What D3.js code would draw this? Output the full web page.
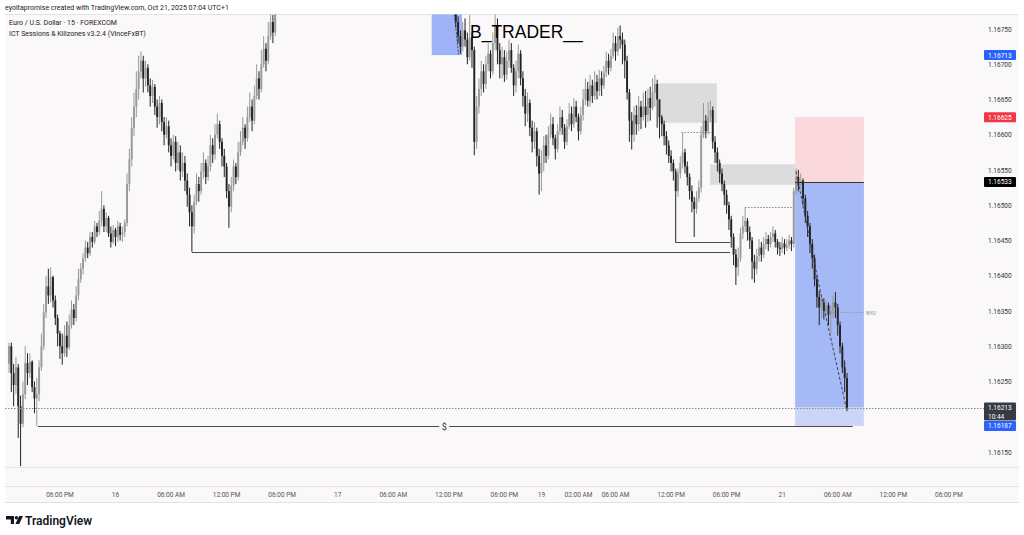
<!DOCTYPE html>
<html><head><meta charset="utf-8">
<script src="https://cdn.jsdelivr.net/npm/d3@7"></script>
<style>body{margin:0;background:#fff;} svg{display:block;font-family:Roboto,"Liberation Sans",sans-serif;}</style>
</head><body><svg id="c" width="1024" height="535"></svg>
<script>
// EUR/USD 15m, prices in points (0.00001) above 1.16000
const BASE = 1.16, PT = 0.00001;
const firstOpen = 275;
const closeP = [
300,262,245,270,215,190,232,276,262,278,242,226,232,270,300,348,
385,372,398,365,340,318,300,290,315,298,330,352,340,372,395,
410,425,440,432,455,448,470,462,478,495,470,482,460,448,465,
455,470,458,462,475,530,565,610,640,665,690,705,
680,695,670,655,668,640,625,645,618,600,612,585,570,590,560,575,548,560,535,515,490,
470,
505,530,520,548,560,540,555,585,572,600,615,590,570,555,520,498,
528,555,540,575,590,610,595,625,640,620,655,680,665,700,722,705,740,760,745,780,800,790,815,
830,845,838,860,872,865,880,895,888,902,915,905,920,935,928,940,952,945,930,918,
925,940,955,948,962,975,968,955,942,950,965,978,990,982,970,958,945,952,938,925,
912,920,905,892,900,885,872,880,865,852,860,845,832,840,828,835,822,815,826,812,
805,818,808,800,
795,800,790,805,798,785,795,790,782,785,760,740,725,748,735,710,738,720,
590,640,665,690,672,700,715,690,730,755,720,700,
710,685,705,720,695,670,690,715,680,655,630,645,610,590,605,570,545,
560,585,570,600,615,595,580,605,625,610,590,612,630,615,640,625,605,628,650,665,648,670,655,675,662,680,
670,688,705,695,712,730,718,740,735,728,705,
660,620,600,628,615,640,625,
640,628,652,638,660,672,650,625,
615,598,585,570,560,548,520,545,560,575,555,540,520,505,495,510,525,600,620,605,625,635,590,575,560,545,530,515,500,480,455,430,412,425,460,470,478,462,450,420,410,428,440,430,445,452,445,455,460,448,440,438,446,440,443,450,445,
520,540,528,535,510,485,470,445,425,395,370,355,362,350,358,345,350,362,355,330,300,270,255,213
];
const highP = [
305,305,275,285,275,230,250,300,290,290,280,250,255,280,318,360,
400,410,412,400,372,345,322,318,330,335,345,365,360,385,410,
418,432,450,448,462,462,478,475,492,520,500,490,485,470,472,
468,478,475,470,480,545,580,625,660,690,712,718,
712,705,700,680,678,672,650,655,650,625,625,620,595,600,598,590,585,575,570,545,525,
500,
515,545,540,560,575,565,570,600,595,615,630,620,595,580,560,530,
540,565,560,590,605,625,615,640,660,650,670,700,690,720,740,730,760,778,770,795,815,810,830,
840,852,855,868,880,882,890,905,902,910,925,920,928,942,940,950,960,958,950,935,
932,948,962,960,970,985,980,972,960,958,972,985,998,995,988,975,962,960,955,942,
930,928,925,910,908,905,890,888,885,870,868,865,850,848,845,842,840,828,832,830,
818,825,822,815,
810,812,805,815,812,800,805,800,795,795,790,768,748,760,765,745,770,745,
725,655,680,705,700,712,730,720,745,772,765,730,
725,720,718,735,730,700,705,728,720,690,665,660,650,620,618,610,580,
578,598,600,612,630,625,600,615,640,635,615,622,645,640,652,648,630,640,665,680,675,685,678,690,685,692,
690,698,718,715,722,745,740,752,755,745,735,
712,665,632,640,642,655,648,
660,662,665,668,680,685,678,650,
628,620,605,592,578,565,552,552,570,604,580,562,545,528,512,520,535,612,645,628,646,648,640,598,582,565,552,535,522,505,485,460,438,440,468,485,497,482,470,455,430,438,452,448,455,462,458,462,470,465,452,448,455,452,452,458,455,
525,552,550,545,538,515,492,475,452,430,400,378,370,368,365,362,358,372,377,360,335,305,280,262
];
const lowP = [
262,235,215,232,170,130,185,225,245,255,235,205,187,222,265,295,
340,360,362,355,330,300,282,274,285,285,295,325,330,335,365,
390,402,420,425,428,440,445,455,458,470,462,462,455,440,445,
442,448,450,448,455,470,520,555,598,625,650,680,
660,668,660,640,645,628,610,615,605,585,595,575,555,565,548,550,535,540,520,498,470,
434,
460,500,505,515,538,530,535,548,560,565,595,580,555,540,510,468,
490,520,530,535,570,585,580,590,618,605,615,650,650,660,695,690,700,735,730,740,775,775,785,
808,822,830,832,852,858,860,875,880,882,898,898,900,915,920,922,935,938,922,910,
912,920,935,940,942,958,960,948,935,936,945,960,972,975,962,950,938,940,930,918,
905,908,898,885,888,878,865,868,858,845,848,838,825,828,820,822,815,808,810,805,
798,800,800,792,
785,788,780,788,785,778,780,780,775,776,752,730,715,718,725,700,705,695,
571,580,630,655,660,665,690,680,685,720,700,680,
680,675,678,695,688,655,660,680,670,640,612,618,598,575,580,555,515,
520,548,560,565,595,585,565,575,600,600,580,585,608,605,610,618,592,600,620,642,640,640,645,650,650,655,
655,665,682,685,690,708,705,712,722,700,680,
650,590,579,590,600,605,608,
620,610,618,620,635,640,610,595,
598,585,572,560,548,535,447,512,538,552,545,528,508,490,455,488,505,518,595,595,600,618,580,560,548,532,520,500,488,465,440,415,387,400,420,452,462,450,438,395,390,402,420,420,425,438,435,440,448,440,430,428,432,430,435,438,435,
440,515,520,522,500,475,455,432,410,385,355,330,340,338,345,330,318,340,340,315,290,262,235,208
];

// time axis (bar indices of labelled bars)
const tickIdx    = [22,46,70,94,118,142,166,190,214,230,246,262,286,310,334,358,382,406];
const tickLabels = ["06:00 PM","16","06:00 AM","12:00 PM","06:00 PM","17","06:00 AM","12:00 PM","06:00 PM","19","02:00 AM","06:00 AM","12:00 PM","06:00 PM","21","06:00 AM","12:00 PM","06:00 PM"];
const priceTicks = [1.1675,1.1670,1.1665,1.1660,1.1655,1.1650,1.1645,1.1640,1.1635,1.1630,1.1625,1.1615];

// drawings (bar index, points)
const positionBox = {i0:339.6, i1:369.3, stop:625, entry:533, target:187, last:213};
const upperBox = {i0:182.6, i1:195.7, top:900, bottom:713};
const greyBoxes = [{i0:280.5, i1:305.8, top:673, bottom:617},{i0:302.8, i1:341.7, top:558, bottom:529}];
const solidLevels = [{i0:79, i1:311.5, v:434},{i0:288, i1:311.5, v:448}];
const dollarLevel = {i0:12.5, i1:364.5, v:187, labelI:188};
const dottedLevels = [{i0:290.5, i1:303.7, v:604},{i0:318, i1:339.3, v:497}];
const nyoLevel = {i0:354, i1:369.3, v:348};
const dashedPath1 = [[340,548],[350,385],[362,208]];
const dashedPath2 = [[192.3,775],[194.2,714]];

const svg = d3.select("#c");
const W = 1024, H = 535;
const P = v => BASE + v*PT;
const x = d3.scaleLinear().domain([0, 362]).range([9, 847]);
const y = d3.scaleLinear().domain([1.1615, 1.1675]).range([452, 29]);
const bg = "#faf8f9";

svg.append("rect").attr("width",W).attr("height",H).attr("fill","#fff");
svg.append("rect").attr("x",5).attr("y",14).attr("width",1014).attr("height",488).attr("fill",bg);
[14,467,486,502].forEach(yy=>svg.append("line").attr("x1",5).attr("x2",1019).attr("y1",yy+0.5).attr("y2",yy+0.5).attr("stroke","#e3e3e6"));

const defs = svg.append("defs");
defs.append("clipPath").attr("id","plot").append("rect").attr("x",5).attr("y",14.5).attr("width",972).attr("height",452);
const g = svg.append("g").attr("clip-path","url(#plot)");

// boxes
greyBoxes.forEach(b=>g.append("rect").attr("x",x(b.i0)).attr("width",x(b.i1)-x(b.i0))
  .attr("y",y(P(b.top))).attr("height",y(P(b.bottom))-y(P(b.top))).attr("fill","#dcdcdc"));
const pb = positionBox;
const px0 = x(pb.i0), px1 = x(pb.i1);
g.append("rect").attr("x",px0).attr("width",px1-px0).attr("y",y(P(pb.stop))).attr("height",y(P(pb.entry))-y(P(pb.stop))).attr("fill","#fad8dc");
g.append("rect").attr("x",px0).attr("width",px1-px0).attr("y",y(P(pb.entry))).attr("height",y(P(pb.last))-y(P(pb.entry))).attr("fill","#a4b9f6");
g.append("rect").attr("x",px0).attr("width",px1-px0).attr("y",y(P(pb.last))).attr("height",y(P(pb.target))-y(P(pb.last))).attr("fill","#cbd6f7");
g.append("rect").attr("x",x(upperBox.i0)).attr("width",x(upperBox.i1)-x(upperBox.i0))
  .attr("y",y(P(upperBox.top))).attr("height",y(P(upperBox.bottom))-y(P(upperBox.top))).attr("fill","#9db3f6");

// levels
solidLevels.forEach(l=>g.append("line").attr("x1",x(l.i0)).attr("x2",x(l.i1)).attr("y1",Math.round(y(P(l.v)))+0.5).attr("y2",Math.round(y(P(l.v)))+0.5).attr("stroke","#4a4a4a").attr("stroke-width",1));
const dy = Math.round(y(P(dollarLevel.v)))+0.5;
g.append("line").attr("x1",x(dollarLevel.i0)).attr("x2",x(dollarLevel.i1)).attr("y1",dy).attr("y2",dy).attr("stroke","#4a4a4a");
g.append("rect").attr("x",x(dollarLevel.labelI)-5).attr("y",dy-5).attr("width",10).attr("height",10).attr("fill",bg);
g.append("text").attr("x",x(dollarLevel.labelI)).attr("y",dy+3).attr("text-anchor","middle").attr("font-size",9).attr("fill","#333").text("$");
dottedLevels.forEach(l=>g.append("line").attr("x1",x(l.i0)).attr("x2",x(l.i1)).attr("y1",Math.round(y(P(l.v)))+0.5).attr("y2",Math.round(y(P(l.v)))+0.5).attr("stroke","#888").attr("stroke-dasharray","1.5,1.5"));
const ny = Math.round(y(P(nyoLevel.v)))+0.5;
g.append("line").attr("x1",x(nyoLevel.i0)).attr("x2",x(nyoLevel.i1)).attr("y1",ny).attr("y2",ny).attr("stroke","#9a9a9a").attr("stroke-dasharray","1.5,1.5");
g.append("text").attr("x",x(nyoLevel.i1)+2).attr("y",ny+2).attr("font-size",5).attr("fill","#888").text("NYO");

// candles
const bars = closeP.map((c,i)=>({i, o: i===0?firstOpen:closeP[i-1], h: highP[i], l: lowP[i], c}));
const cg = g.append("g");
bars.forEach(b=>{
  const up = b.c >= b.o;
  const col = up ? "#999999" : "#232323";
  const cx = x(b.i);
  const hi = Math.max(b.h,b.o,b.c), lo = Math.min(b.l,b.o,b.c);
  cg.append("line").attr("x1",cx).attr("x2",cx).attr("y1",y(P(hi))).attr("y2",y(P(lo))).attr("stroke",col).attr("stroke-width",1);
  const yt = y(P(Math.max(b.o,b.c))), yb = y(P(Math.min(b.o,b.c)));
  cg.append("rect").attr("x",cx-0.95).attr("width",1.9).attr("y",yt).attr("height",Math.max(0.8,yb-yt)).attr("fill",col);
});

// entry line and current price line
g.append("line").attr("x1",px0).attr("x2",px1).attr("y1",Math.round(y(P(pb.entry)))+0.5).attr("y2",Math.round(y(P(pb.entry)))+0.5).attr("stroke","#333").attr("stroke-width",1);
const line = d3.line().x(d=>x(d[0])).y(d=>y(P(d[1])));
g.append("path").attr("d",line(dashedPath1)).attr("fill","none").attr("stroke","#333").attr("stroke-dasharray","3,2").attr("stroke-width",0.9);
g.append("path").attr("d",line(dashedPath2)).attr("fill","none").attr("stroke","#333").attr("stroke-dasharray","2,1.5").attr("stroke-width",0.9);
const ly = Math.round(y(P(pb.last)))+0.5;
svg.append("line").attr("x1",5).attr("x2",984).attr("y1",ly).attr("y2",ly).attr("stroke","#8a8a8a").attr("stroke-dasharray","1.5,1.5");

// texts
svg.append("text").attr("x",5).attr("y",10).attr("font-size",7).attr("fill","#222").text("eyoltapromise created with TradingView.com, Oct 21, 2025 07:04 UTC+1");
svg.append("text").attr("x",9).attr("y",25).attr("font-size",7).attr("fill","#222").text("Euro / U.S. Dollar · 15 · FOREXCOM");
svg.append("text").attr("x",9).attr("y",36).attr("font-size",7).attr("fill","#222").text("ICT Sessions & Killzones v3.2.4 (VinceFxBT)");
svg.append("text").attr("x",470).attr("y",38).attr("font-family","Liberation Sans, Arial, sans-serif").attr("font-size",17.5).attr("fill","#000").text("B_TRADER__");

// price axis
priceTicks.forEach(p=>svg.append("text").attr("x",988).attr("y",y(p)+2.5).attr("font-size",6.5).attr("fill","#333").text(p.toFixed(5)));
function tag(v, color, lines){
  const yc = y(P(v));
  const h = lines.length>1 ? 18 : 10;
  svg.append("rect").attr("x",984).attr("y",yc-5).attr("width",32).attr("height",h).attr("rx",1).attr("fill",color);
  lines.forEach((t,k)=>svg.append("text").attr("x",988).attr("y",yc+2.5+k*8.5).attr("font-size",6.5).attr("fill","#fff").text(t));
}
tag(713,"#2962ff",["1.16713"]);
tag(625,"#f23645",["1.16625"]);
tag(533,"#000000",["1.16533"]);
tag(213,"#363a45",["1.16213","10:44"]);
tag(187,"#2962ff",["1.16187"]);

// time axis
tickIdx.forEach((ti,k)=>svg.append("text").attr("x",x(ti)).attr("y",497).attr("text-anchor","middle").attr("font-size",6.5).attr("fill","#555").text(tickLabels[k]));

// logo
const lg = svg.append("g").attr("fill","#131722");
lg.append("path").attr("d","M6,516 h8 v8 h-3.2 v-4.6 h-4.8 z");
lg.append("circle").attr("cx",16.4).attr("cy",517.8).attr("r",1.7);
lg.append("path").attr("d","M19.2,516 h3.8 l-3.8,8 h-3.8 z");
svg.append("text").attr("x",25).attr("y",524.5).attr("font-size",12).attr("font-weight",600).attr("fill","#131722").text("TradingView");
</script></body></html>
